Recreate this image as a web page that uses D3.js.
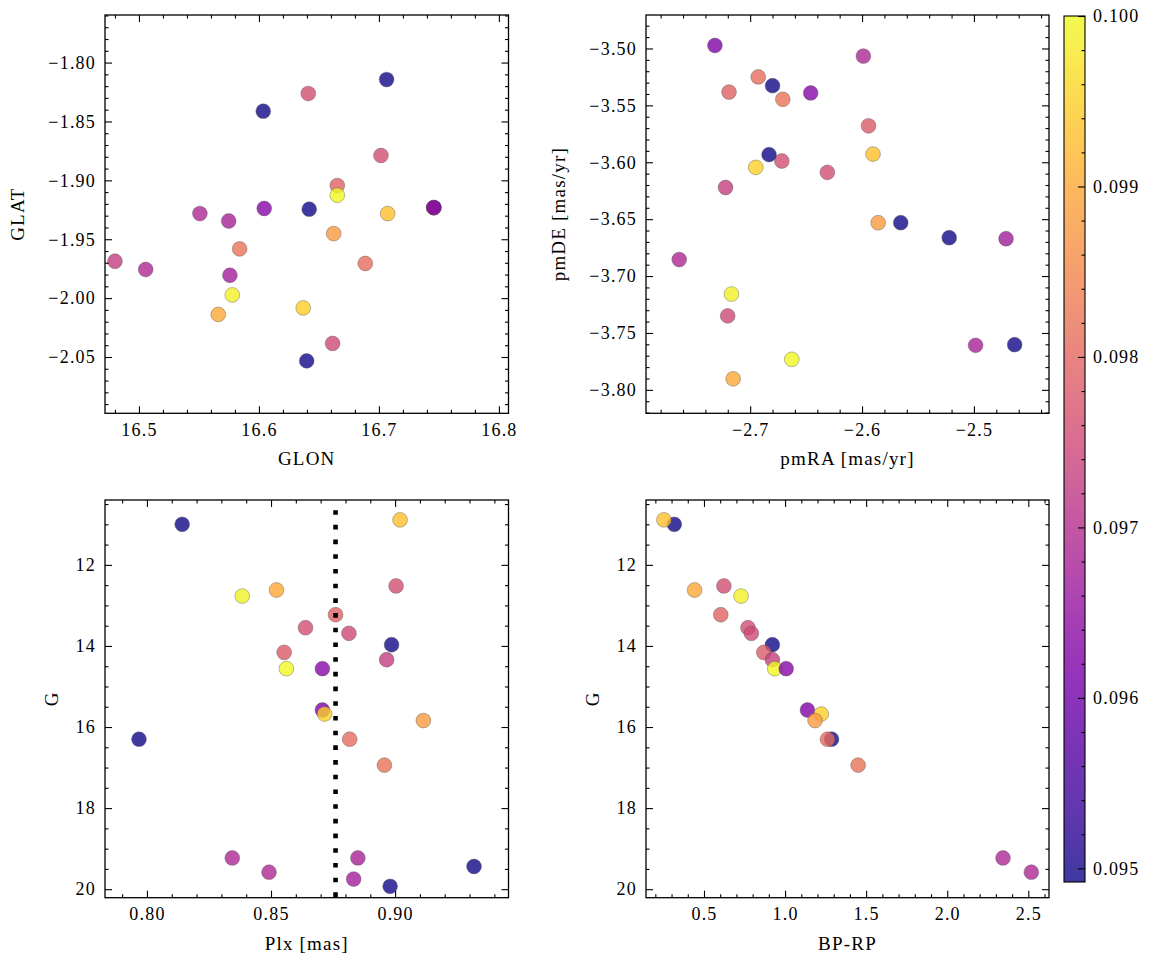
<!DOCTYPE html>
<html>
<head>
<meta charset="utf-8">
<script src="https://cdn.jsdelivr.net/npm/d3@7"></script>
<style>
  html, body { margin: 0; padding: 0; background: #fff; }
  svg text { font-family: "Liberation Serif", "DejaVu Serif", serif; fill: #000; }
</style>
</head>
<body>
<svg id="chart" width="1155" height="965"></svg>
<script>
// ---------------- data (one entry per star) ----------------
const glon = [16.6036, 16.7073, 16.5661, 16.5778, 16.7017, 16.6653, 16.6411, 16.6614, 16.7458, 16.7456,
              16.4800, 16.6653, 16.6044, 16.7458, 16.6369, 16.6623, 16.6398, 16.6886, 16.5839, 16.5056,
              16.5508, 16.5748, 16.5758, 16.7064, 16.6419];
const glat = [-1.8413, -1.9282, -2.0139, -1.9973, -1.8789, -1.9044, -1.8263, -2.0385, -1.9231, -1.9233,
              -1.9687, -1.9126, -1.9239, -1.9231, -2.0083, -1.9452, -2.0533, -1.9706, -1.9582, -1.9757,
              -1.9282, -1.9345, -1.9806, -1.8144, -1.9245];
const pmra = [-2.6800, -2.5902, -2.7152, -2.7167, -2.6310, -2.7189, -2.6717, -2.7201, -2.6831, -2.5942,
              -2.7220, -2.6628, -2.6459, -2.7315, -2.6950, -2.5856, -2.5654, -2.6928, -2.6708, -2.7634,
              -2.5988, -2.4985, -2.4713, -2.5221, -2.4636];
const pmde = [-3.5327, -3.5928, -3.7903, -3.7158, -3.6089, -3.5383, -3.5989, -3.7350, -3.5933, -3.5680,
              -3.6222, -3.7732, -3.5391, -3.4974, -3.6045, -3.6531, -3.6531, -3.5250, -3.5447, -3.6855,
              -3.5067, -3.7609, -3.6672, -3.6663, -3.7603];
const plx  = [0.8142, 0.9020, 0.8522, 0.8384, 0.9004, 0.8760, 0.8639, 0.8814, 0.8986, 0.8553,
              0.8966, 0.8562, 0.8707, 0.8707, 0.8716, 0.9114, 0.7968, 0.8817, 0.8957, 0.8344,
              0.8492, 0.8850, 0.8833, 0.8980, 0.9318];
const gmag = [11.00, 10.89, 12.62, 12.77, 12.52, 13.23, 13.55, 13.69, 13.97, 14.16,
              14.34, 14.56, 14.56, 15.58, 15.68, 15.84, 16.30, 16.30, 16.94, 19.23,
              19.58, 19.23, 19.75, 19.93, 19.44];
const bprp = [0.3169, 0.2528, 0.4420, 0.7287, 0.6227, 0.6036, 0.7713, 0.7922, 0.9217, 0.8687,
              0.9217, 0.9365, 1.0068, 1.1380, 1.2232, 1.1849, 1.2867, 1.2614, 1.4507, 2.3440,
              2.5186, null, null, null, null];
const cval = [0.09495, 0.0993, 0.0990, 0.0999, 0.0976, 0.0979, 0.0976, 0.0975, 0.09495, 0.0978,
              0.0973, 0.1000, 0.0963, 0.0962, 0.0995, 0.0988, 0.09495, 0.0981, 0.0982, 0.0969,
              0.0969, 0.0968, 0.0967, 0.09495, 0.09495];
const plxRef = 0.876;           // vertical dotted reference line
const plxRefG = [10.65, 20.21]; // G range spanned by that line

// colour range
const cMin = 0.09492, cMax = 0.1000;

// tick values / labels
const glonTicks = [16.5, 16.6, 16.7, 16.8];
const glatTicks = [-1.80, -1.85, -1.90, -1.95, -2.00, -2.05];
const pmraTicks = [-2.7, -2.6, -2.5];
const pmdeTicks = [-3.50, -3.55, -3.60, -3.65, -3.70, -3.75, -3.80];
const plxTicks  = [0.80, 0.85, 0.90];
const gTicks    = [12, 14, 16, 18, 20];
const bprpTicks = [0.5, 1.0, 1.5, 2.0, 2.5];
const cTicks    = [0.095, 0.096, 0.097, 0.098, 0.099, 0.100];

// ---------------- drawing ----------------
const svg = d3.select("#chart");
const FS = 18, LFS = 19;
const color = d3.scaleSequential(d3.interpolatePlasma).domain([cMin, cMax]);

const stars = glon.map((d, i) => ({
  glon: glon[i], glat: glat[i], pmra: pmra[i], pmde: pmde[i],
  plx: plx[i], g: gmag[i], bprp: bprp[i], c: cval[i]
}));

const panels = [
  { box: [105, 508.5, 15, 413.3], xd: [16.4717, 16.808], yd: [-2.0978, -1.7596],
    xk: "glon", yk: "glat", xt: glonTicks, yt: glatTicks, xm: 0.02, ym: 0.01,
    xf: d3.format(".1f"), yf: d3.format(".2f"), xl: "GLON", yl: "GLAT", ylx: 81 },
  { box: [646, 1049, 15, 413.3], xd: [-2.7931, -2.4329], yd: [-3.8206, -3.4706],
    xk: "pmra", yk: "pmde", xt: pmraTicks, yt: pmdeTicks, xm: 0.02, ym: 0.01,
    xf: d3.format(".1f"), yf: d3.format(".2f"), xl: "pmRA [mas/yr]", yl: "pmDE [mas/yr]", ylx: 81 },
  { box: [105, 508.5, 500, 897.7], xd: [0.7831, 0.9457], yd: [20.21, 10.40],
    xk: "plx", yk: "g", xt: plxTicks, yt: gTicks, xm: 0.01, ym: 0.5,
    xf: d3.format(".2f"), yf: d3.format("d"), xl: "Plx [mas]", yl: "G", ylx: 47, vline: true },
  { box: [646, 1049, 500, 897.7], xd: [0.1424, 2.6276], yd: [20.21, 10.40],
    xk: "bprp", yk: "g", xt: bprpTicks, yt: gTicks, xm: 0.1, ym: 0.5,
    xf: d3.format(".1f"), yf: d3.format("d"), xl: "BP-RP", yl: "G", ylx: 47 }
];

function minorTicks(domain, step) {
  const lo = Math.min(domain[0], domain[1]), hi = Math.max(domain[0], domain[1]);
  const out = [];
  for (let k = Math.ceil(lo / step - 1e-9); k * step <= hi + 1e-12; k++) out.push(+(k * step).toFixed(6));
  return out;
}

function styleAxis(g) {
  g.select(".domain").remove();
  g.selectAll(".tick line").attr("stroke", "#000").attr("stroke-width", 1.1);
  g.selectAll(".tick text").style("font-size", FS + "px").style("letter-spacing", "1.2px")
    .style("font-family", "Liberation Serif");
}

panels.forEach(p => {
  const [x0, x1, y0, y1] = p.box;
  const x = d3.scaleLinear().domain(p.xd).range([x0, x1]);
  const y = d3.scaleLinear().domain(p.yd).range([y1, y0]);
  const g = svg.append("g");

  const cid = "clip" + x0 + "_" + y0;
  svg.append("clipPath").attr("id", cid).append("rect")
    .attr("x", x0).attr("y", y0).attr("width", x1 - x0).attr("height", y1 - y0);

  const pts = stars.filter(s => s[p.xk] !== null && s[p.yk] !== null);

  const plot = g.append("g").attr("clip-path", `url(#${cid})`);
  plot.selectAll("circle").data(pts).join("circle")
    .attr("cx", d => x(d[p.xk])).attr("cy", d => y(d[p.yk])).attr("r", 7.4)
    .attr("fill", d => color(d.c)).attr("fill-opacity", 0.8)
    .attr("stroke", "#555").attr("stroke-opacity", 0.8).attr("stroke-width", 0.5);

  if (p.vline) {
    plot.append("line")
      .attr("x1", x(plxRef)).attr("x2", x(plxRef))
      .attr("y1", y(plxRefG[0])).attr("y2", y(plxRefG[1]))
      .attr("stroke", "#000").attr("stroke-width", 4.6)
      .attr("stroke-dasharray", "4.6,10.1");
  }

  const xMin = minorTicks(p.xd, p.xm).filter(v => !p.xt.some(t => Math.abs(t - v) < 1e-9));
  const yMin = minorTicks(p.yd, p.ym).filter(v => !p.yt.some(t => Math.abs(t - v) < 1e-9));

  g.append("g").attr("transform", `translate(0,${y1})`)
    .call(d3.axisBottom(x).tickValues(p.xt).tickFormat(p.xf).tickSize(-7).tickPadding(10)).call(styleAxis);
  g.append("g").attr("transform", `translate(0,${y1})`)
    .call(d3.axisBottom(x).tickValues(xMin).tickFormat("").tickSize(-3.5)).call(styleAxis);
  g.append("g").attr("transform", `translate(0,${y0})`)
    .call(d3.axisTop(x).tickValues(p.xt).tickFormat("").tickSize(-7)).call(styleAxis);
  g.append("g").attr("transform", `translate(0,${y0})`)
    .call(d3.axisTop(x).tickValues(xMin).tickFormat("").tickSize(-3.5)).call(styleAxis);
  g.append("g").attr("transform", `translate(${x0},0)`)
    .call(d3.axisLeft(y).tickValues(p.yt).tickFormat(p.yf).tickSize(-7).tickPadding(9)).call(styleAxis);
  g.append("g").attr("transform", `translate(${x0},0)`)
    .call(d3.axisLeft(y).tickValues(yMin).tickFormat("").tickSize(-3.5)).call(styleAxis);
  g.append("g").attr("transform", `translate(${x1},0)`)
    .call(d3.axisRight(y).tickValues(p.yt).tickFormat("").tickSize(-7)).call(styleAxis);
  g.append("g").attr("transform", `translate(${x1},0)`)
    .call(d3.axisRight(y).tickValues(yMin).tickFormat("").tickSize(-3.5)).call(styleAxis);

  g.append("rect").attr("x", x0).attr("y", y0).attr("width", x1 - x0).attr("height", y1 - y0)
    .attr("fill", "none").attr("stroke", "#000").attr("stroke-width", 1.3);

  g.append("text").attr("x", (x0 + x1) / 2).attr("y", y1 + 52)
    .attr("text-anchor", "middle").style("font-size", LFS + "px").style("letter-spacing", "1.2px")
    .text(p.xl);
  g.append("text")
    .attr("transform", `translate(${x0 - p.ylx},${(y0 + y1) / 2}) rotate(-90)`)
    .attr("text-anchor", "middle").style("font-size", LFS + "px").style("letter-spacing", "1.2px")
    .text(p.yl);
});

// ---------------- colorbar ----------------
const cb = { x0: 1064, x1: 1085, y0: 16, y1: 882 };
const cy = d3.scaleLinear().domain([cMin, cMax]).range([cb.y1, cb.y0]);
const defs = svg.append("defs");
const grad = defs.append("linearGradient").attr("id", "cbgrad")
  .attr("x1", "0").attr("y1", "1").attr("x2", "0").attr("y2", "0");
d3.range(0, 1.0001, 0.05).forEach(t => {
  grad.append("stop").attr("offset", t).attr("stop-color", d3.interpolatePlasma(t));
});
const cbg = svg.append("g");
cbg.append("rect").attr("x", cb.x0).attr("y", cb.y0).attr("width", cb.x1 - cb.x0).attr("height", cb.y1 - cb.y0)
  .attr("fill", "url(#cbgrad)").attr("fill-opacity", 0.8);
const cMinor = minorTicks([cMin, cMax], 0.0002).filter(v => !cTicks.some(t => Math.abs(t - v) < 1e-9));
cbg.append("g").attr("transform", `translate(${cb.x1},0)`)
  .call(d3.axisRight(cy).tickValues(cTicks).tickFormat(d3.format(".3f")).tickSize(-7).tickPadding(8))
  .call(styleAxis);
cbg.append("g").attr("transform", `translate(${cb.x1},0)`)
  .call(d3.axisRight(cy).tickValues(cMinor).tickFormat("").tickSize(-3.5))
  .call(styleAxis);
cbg.append("rect").attr("x", cb.x0).attr("y", cb.y0).attr("width", cb.x1 - cb.x0).attr("height", cb.y1 - cb.y0)
  .attr("fill", "none").attr("stroke", "#000").attr("stroke-width", 1.1);
</script>
</body>
</html>
